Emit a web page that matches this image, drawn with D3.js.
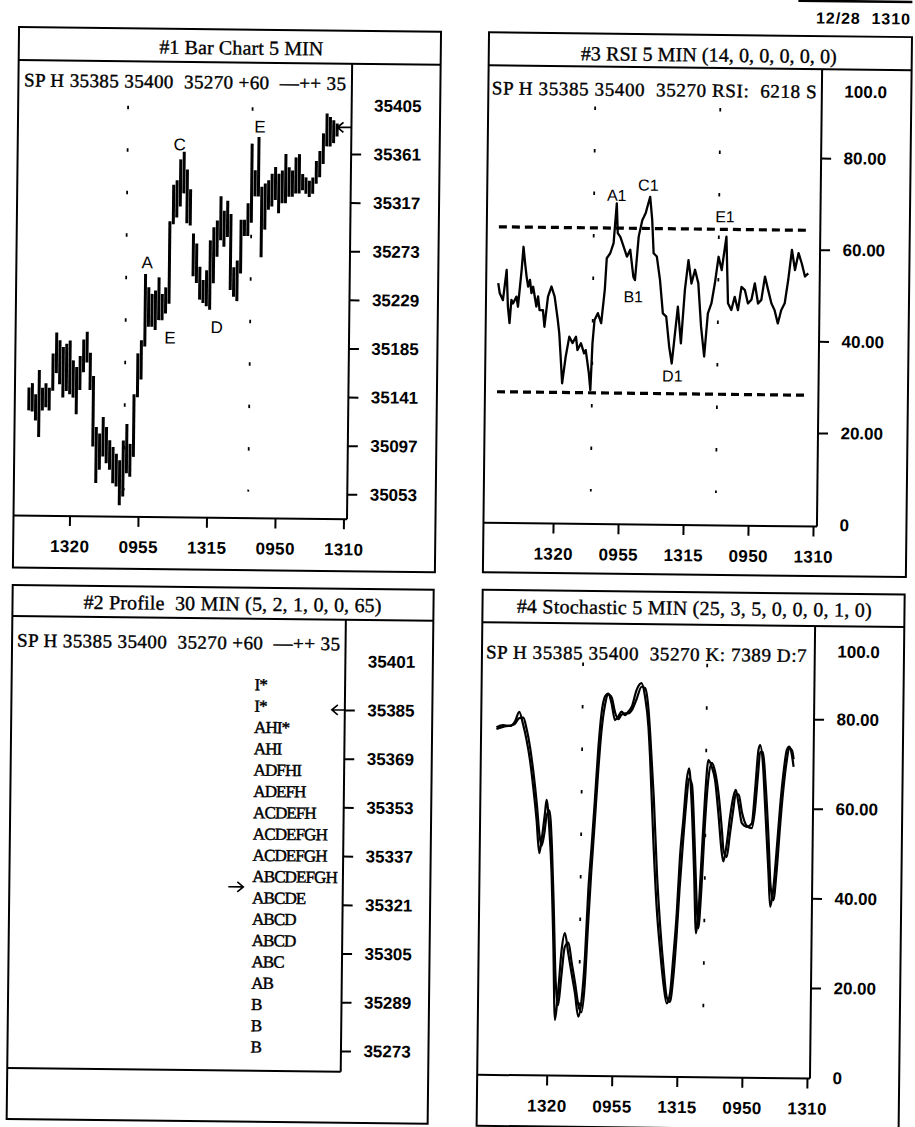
<!DOCTYPE html>
<html><head><meta charset="utf-8">
<script src="https://cdn.jsdelivr.net/npm/d3@7"></script>
<style>body{margin:0;background:#fff}svg{display:block}</style>
</head><body>
<svg id="c" width="915" height="1127"></svg>
<script>
// ---------------- DATA ----------------
const timeTickBars = [40, 80, 120, 160, 200];
const timeTickLabels = ["1320", "0955", "1315", "0950", "1310"];

// #1 bar chart (sampled every ~2 five-minute bars)
const priceTicks = [35405, 35361, 35317, 35273, 35229, 35185, 35141, 35097, 35053];
const priceStartBar = 15.5, priceBarStep = 1.98;
const priceHigh = [35145,35149,35139,35161,35145,35149,35145,35176,35195,35188,35182,35185,35188,35170,35164,35174,35189,35196,35177,35156,35110,35104,35119,35110,35098,35092,35086,35080,35098,35113,35095,35140,35177,35189,35249,35237,35231,35234,35246,35231,35237,35297,35330,35334,35353,35360,35344,35326,35286,35277,35256,35244,35253,35280,35292,35298,35320,35307,35316,35304,35256,35262,35299,35299,35314,35368,35344,35374,35329,35332,35335,35341,35347,35341,35344,35359,35347,35344,35356,35359,35341,35338,35335,35338,35353,35362,35378,35396,35393,35390,35387];
const priceLow = [35127,35126,35118,35103,35127,35130,35127,35145,35161,35151,35139,35145,35142,35139,35124,35146,35162,35171,35146,35095,35062,35074,35086,35080,35074,35062,35059,35042,35050,35071,35068,35086,35140,35156,35186,35204,35204,35201,35210,35210,35216,35225,35297,35303,35313,35325,35298,35296,35250,35244,35229,35226,35223,35220,35244,35268,35283,35277,35286,35238,35232,35228,35253,35287,35287,35299,35323,35323,35268,35293,35311,35314,35320,35308,35317,35317,35323,35323,35326,35326,35329,35326,35323,35326,35335,35341,35353,35369,35369,35372,35378];
const priceLast = 35385;
const priceDayBars = [71.5, 144.2];
const priceNotes = [["A",83.7,35261],["C",101.9,35368],["E",148.7,35385],["E",97.5,35193],["D",124.7,35203]];

// #3 RSI
const rsiTicks = [80, 60, 40, 20];
const rsiBands = [64.2, 28.2];
const rsiBar = [4.6,5.6,7.6,9.7,10.7,11.8,12.8,13.8,15.9,16.9,18.9,19.9,21.0,22.0,23.0,24.1,25.1,26.1,28.2,29.2,30.2,32.3,33.3,35.3,37.4,39.4,41.5,42.5,43.5,44.6,46.6,48.7,50.7,52.8,53.8,55.9,57.9,58.9,61.0,62.0,63.0,64.1,66.1,68.2,70.2,71.2,73.3,75.3,77.0,77.8,79.4,81.5,83.6,85.6,87.7,88.7,90.7,92.8,94.8,95.9,97.5,98.9,100.0,102.0,104.1,106.1,108.2,110.2,111.9,113.3,115.3,117.4,119.5,121.5,123.5,125.6,127.7,129.7,131.8,133.8,135.9,137.9,140.0,142.0,144.7,146.1,148.2,150.2,152.3,154.3,156.4,158.4,160.5,162.5,164.6,166.6,168.7,170.7,172.8,174.8,176.9,178.9,181.0,183.0,185.1,187.1,189.2,191.2,193.3,195.3];
const rsiValue = [51.9,49.7,48.2,54.8,46.8,43.2,48.3,47.5,49.0,46.8,54.8,59.9,56.3,53.4,51.2,52.7,49.8,51.2,46.9,49.1,46.1,46.1,42.5,49.1,51.3,49.1,44.0,41.1,36.0,30.2,36.0,40.4,39.0,40.4,37.5,39.0,36.8,37.5,32.4,28.8,39.0,44.1,45.6,43.4,50.7,57.6,58.7,60.9,69.6,63.1,62.3,60.2,58.0,59.5,53.6,52.9,62.4,66.0,67.5,69.0,71.1,66.1,58.8,58.1,53.0,45.7,45.0,38.5,34.8,39.9,47.2,39.2,50.9,57.4,52.3,55.3,52.4,42.9,36.4,45.8,48.0,52.4,58.2,55.3,62.6,48.1,46.6,49.5,46.6,51.7,51.0,48.1,48.9,52.5,48.1,48.9,54.0,51.1,48.2,46.7,43.8,46.7,48.2,53.3,59.9,55.5,59.2,57.0,54.1,54.8];
const rsiDayBars = [63.0, 140.0];
const rsiNotes = [["A1",76.9,71.4],["C1",96.3,73.7],["B1",87.8,49.3],["D1",112.4,32.1],["E1",143.7,67.0]];

// #2 profile
const profTicks = [35401, 35385, 35369, 35353, 35337, 35321, 35305, 35289, 35273];
const profPrice = [35393,35386,35379,35372,35365,35358,35351,35344,35337,35330,35323,35316,35309,35302,35295,35288,35281,35274];
const profLetters = ["I*","I*","AHI*","AHI","ADFHI","ADEFH","ACDEFH","ACDEFGH","ACDEFGH","ABCDEFGH","ABCDE","ABCD","ABCD","ABC","AB","B","B","B"];
const profMarker = 35326.5;

// #4 stochastic
const stochTicks = [80, 60, 40, 20];
const stochBar = [6.7,10.8,14.9,18.0,20.6,23.1,25.3,27.5,29.7,32.0,33.9,35.2,37.1,38.0,39.8,41.6,43.1,44.7,46.5,48.3,50.2,52.4,54.6,56.8,59.0,60.9,62.7,64.3,66.0,67.7,69.4,71.2,73.2,75.2,77.3,79.5,81.5,83.5,85.6,87.6,89.7,92.6,95.6,97.8,100.1,101.3,103.9,106.4,108.8,111.1,113.3,115.2,117.0,118.8,120.4,122.2,124.0,125.4,127.3,129.2,130.8,132.1,133.8,135.4,137.2,139.3,141.4,143.7,146.1,147.1,149.1,150.9,152.8,154.2,156.0,158.2,161.3,164.3,166.1,167.9,168.9,170.7,172.4,174.9,176.2,178.1,179.9,181.6,183.4,185.3,186.8,188.5,189.6];
const stochK = [77.4,77.9,77.7,78.7,80.9,78.0,74.6,70.2,64.2,56.8,49.4,52.3,58.3,61.3,55.3,44.9,30.0,12.2,18.9,27.8,31.6,27.1,22.6,18.2,13.0,16.7,26.4,41.3,51.0,61.4,72.6,80.8,84.5,85.2,83.0,79.3,80.1,81.2,80.4,81.2,82.3,86.1,87.6,84.6,77.9,71.2,52.6,37.7,28.1,20.6,16.2,18.4,26.6,36.3,49.0,57.2,66.1,68.7,60.2,45.3,31.9,36.4,49.8,62.4,70.6,69.1,66.2,58.7,49.8,48.0,52.1,58.0,62.5,64.0,61.0,56.6,55.8,56.6,64.0,73.0,74.1,70.0,60.3,45.5,38.0,42.5,51.4,60.4,67.8,73.0,73.8,71.9,69.3];
const stochD = [77.0,77.5,77.8,78.2,79.5,79.6,77.0,73.0,67.5,60.5,53.5,51.0,54.5,57.5,59.0,51.0,38.0,22.0,15.5,22.0,28.5,29.5,25.0,20.5,15.5,14.0,20.0,33.0,45.5,56.0,67.0,76.5,82.5,85.0,84.3,81.0,79.5,80.5,80.8,80.8,81.5,84.0,86.8,86.5,81.5,76.0,62.0,45.0,33.0,24.0,17.5,16.5,21.5,31.0,42.0,52.5,61.5,66.5,65.0,53.0,40.0,33.0,42.0,55.5,66.0,70.0,68.0,63.0,54.5,50.5,49.0,54.0,59.5,63.0,63.0,59.0,56.0,55.5,59.5,68.0,72.5,72.5,66.0,52.0,43.0,39.5,46.0,55.5,64.0,70.5,73.5,73.0,71.0];
const stochDayBars = [59.5, 135.8];

// texts
const titles = ["#1 Bar Chart 5 MIN", "#3 RSI 5 MIN (14, 0, 0, 0, 0, 0)", "#2 Profile  30 MIN (5, 2, 1, 0, 0, 65)", "#4 Stochastic 5 MIN (25, 3, 5, 0, 0, 0, 1, 0)"];
const headers = ["SP H 35385 35400  35270 +60  \u2014++ 35", "SP H 35385 35400  35270 RSI:  6218 S", "SP H 35385 35400  35270 +60  \u2014++ 35", "SP H 35385 35400  35270 K: 7389 D:7"];
const stamp = "12/28  1310";

// ---------------- LAYOUT ----------------
const serif = "'Liberation Serif','Times New Roman',serif";
const sans = "'Liberation Sans',Arial,sans-serif";
const svg = d3.select("#c");
const defs = svg.append("defs");
const g = svg.append("g").attr("transform", "rotate(0.65,457,563)");

const P1 = {x0:13, y0:32, w:422, h:540.5, tb:65, pr:346.5, pb:520.5};
const P3 = {x0:483, y0:32, w:423, h:540, tb:65, pr:816.5, pb:522.5};
const P2 = {x0:13, y0:590, w:421, h:534, tb:621, pr:346.5, pb:1073};
const P4 = {x0:483, y0:589.5, w:422, h:536, tb:622, pr:815.8, pb:1074.5};

function frame(p, id){
  const f = g.append("g").attr("fill","none").attr("stroke","#000").attr("stroke-width",2);
  f.append("rect").attr("x",p.x0).attr("y",p.y0).attr("width",p.w).attr("height",p.h);
  f.append("line").attr("x1",p.x0).attr("x2",p.x0+p.w).attr("y1",p.tb).attr("y2",p.tb);
  f.append("line").attr("x1",p.pr).attr("x2",p.pr).attr("y1",p.tb).attr("y2",p.pb);
  f.append("line").attr("x1",p.x0).attr("x2",p.pr).attr("y1",p.pb).attr("y2",p.pb);
  defs.append("clipPath").attr("id",id).append("rect")
    .attr("x",p.x0+1).attr("y",p.tb+1).attr("width",p.pr-p.x0-2).attr("height",p.pb-p.tb-2);
}
function bolden(sel, w){ return sel.attr("fill","#000").attr("stroke","#000").attr("stroke-width",w); }
function title(p, txt, cx, cy, len){
  bolden(g.append("text").attr("x",cx).attr("y",cy+6.6).attr("text-anchor","middle")
    .attr("font-family",serif).attr("font-size",20).attr("textLength",len).attr("lengthAdjust","spacing")
    .style("white-space","pre").text(txt), 0.35);
}
function header(txt, x, cy, len){
  bolden(g.append("text").attr("x",x).attr("y",cy+6.2).attr("font-family",serif).attr("font-size",19)
    .attr("textLength",len).attr("lengthAdjust","spacing")
    .style("white-space","pre").text(txt), 0.4);
}
function yAxis(p, scale, values, fmt, hidden){
  const a = g.append("g").attr("transform",`translate(${p.pr},0)`)
    .call(d3.axisRight(scale).tickValues(values).tickSize(10).tickPadding(12.5).tickFormat(fmt));
  a.select(".domain").remove();
  a.selectAll(".tick line").attr("stroke","#000").attr("stroke-width",2).attr("stroke-opacity",d=>hidden.includes(d)?0:1);
  a.selectAll("text").attr("font-family",sans).attr("font-weight","bold").attr("font-size",17).attr("fill","#000");
  return a;
}
function extraLabel(p, txt, y){
  g.append("text").attr("x",p.pr+22.5).attr("y",y).attr("dy","0.36em").attr("font-family",sans)
    .attr("font-weight","bold").attr("font-size",17).attr("fill","#000").text(txt);
}
function xAxis(p, scale){
  const a = g.append("g").attr("transform",`translate(0,${p.pb})`)
    .call(d3.axisBottom(scale).tickValues(timeTickBars).tickSize(10).tickPadding(14).tickFormat((d,i)=>timeTickLabels[i]));
  a.select(".domain").remove();
  a.selectAll(".tick line").attr("stroke","#000").attr("stroke-width",2);
  a.selectAll("text").attr("font-family",sans).attr("font-weight","bold").attr("font-size",17).attr("fill","#000").attr("letter-spacing",0.4);
}
function dayLines(xs, bars, y1, y2){
  g.append("g").selectAll("line").data(bars).join("line")
    .attr("x1",d=>xs(d)).attr("x2",d=>xs(d)).attr("y1",y1).attr("y2",y2)
    .attr("stroke","#000").attr("stroke-width",1.8).attr("stroke-dasharray","3.5 39");
}

// ---------- Panel 1: bar chart ----------
frame(P1,"cp1");
title(P1, titles[0], 235.5, 50.4, 164);
header(headers[0], 18.6, 85.1, 322);
const xP = d3.scaleLinear().domain([40,200]).range([69,343]);
const yP = d3.scaleLinear().domain([35053,35405]).range([495.5,106.6]);
yAxis(P1, yP, priceTicks, d=>d, [35405]);
xAxis(P1, xP);
dayLines(xP, priceDayBars, 109.5, 494);
const bars = priceHigh.map((h,i)=>({bar: priceStartBar + priceBarStep*i, h, l: priceLow[i]}));
g.append("g").attr("clip-path","url(#cp1)").selectAll("line").data(bars).join("line")
  .attr("x1",d=>xP(d.bar)).attr("x2",d=>xP(d.bar))
  .attr("y1",d=>yP(d.h)).attr("y2",d=>yP(d.l))
  .attr("stroke","#000").attr("stroke-width",3).attr("stroke-linecap","square");
// last price arrow
{
  const y = yP(priceLast), tip = P1.pr - 14;
  g.append("path").attr("d",`M${tip+6},${y-5}L${tip},${y}L${tip+6},${y+5}M${tip},${y}L${P1.pr},${y}`)
    .attr("fill","none").attr("stroke","#000").attr("stroke-width",1.8);
}
g.append("g").selectAll("text").data(priceNotes).join("text")
  .attr("x",d=>xP(d[1])).attr("y",d=>yP(d[2])).attr("dy","0.36em").attr("text-anchor","middle")
  .attr("font-family",sans).attr("font-size",17).attr("fill","#000").text(d=>d[0]);

// ---------- Panel 3: RSI ----------
frame(P3,"cp3");
title(P3, titles[1], 703, 52.2, 256);
header(headers[1], 486.4, 87.8, 325);
const xR = d3.scaleLinear().domain([40,200]).range([552.6,812.6]);
const yR = d3.scaleLinear().domain([0,100]).range([520.5,62.3]);
yAxis(P3, yR, rsiTicks, d3.format(".2f"), []);
extraLabel(P3, "100.0", 87.1);
extraLabel(P3, "0", yR(0));
xAxis(P3, xR);
dayLines(xR, rsiDayBars, 105, 490);
g.append("g").selectAll("line").data(rsiBands).join("line")
  .attr("x1",xR(rsiBar[0])).attr("x2",xR(rsiBar[rsiBar.length-1]-1))
  .attr("y1",d=>yR(d)).attr("y2",d=>yR(d))
  .attr("stroke","#000").attr("stroke-width",3.2).attr("stroke-dasharray","8 5");
const rsiPts = rsiBar.map((b,i)=>[b, rsiValue[i]]);
g.append("path").attr("clip-path","url(#cp3)")
  .attr("d", d3.line().x(d=>xR(d[0])).y(d=>yR(d[1]))(rsiPts))
  .attr("fill","none").attr("stroke","#000").attr("stroke-width",2.3).attr("stroke-linejoin","round");
g.append("g").selectAll("text").data(rsiNotes).join("text")
  .attr("x",d=>xR(d[1])).attr("y",d=>yR(d[2])).attr("dy","0.36em").attr("text-anchor","middle")
  .attr("font-family",sans).attr("font-size",16).attr("fill","#000").text(d=>d[0]);

// ---------- Panel 2: profile ----------
frame(P2,"cp2");
title(P2, titles[2], 233, 606.5, 298);
header(headers[2], 17.9, 645.4, 323);
const yQ = d3.scaleLinear().domain([35273,35385]).range([1052.2,711.2]);
yAxis(P2, yQ, profTicks, d=>d, [35401]);
bolden(g.append("g").attr("clip-path","url(#cp2)").selectAll("text").data(profPrice).join("text")
  .attr("x",256).attr("y",d=>yQ(d)).attr("dy","0.34em")
  .attr("font-family",serif).attr("font-size",17).attr("letter-spacing",-0.9)
  .text((d,i)=>profLetters[i]), 0.45);
{
  const y = yQ(priceLast), tip = P2.pr - 13;
  g.append("path").attr("d",`M${tip+6},${y-5}L${tip},${y}L${tip+6},${y+5}M${tip},${y}L${P2.pr},${y}`)
    .attr("fill","none").attr("stroke","#000").attr("stroke-width",1.6);
  const y2 = yQ(profMarker);
  g.append("path").attr("d",`M232,${y2}L247,${y2}M241,${y2-5}L247,${y2}L241,${y2+5}`)
    .attr("fill","none").attr("stroke","#000").attr("stroke-width",1.6);
}

// ---------- Panel 4: stochastic ----------
frame(P4,"cp4");
title(P4, titles[3], 694.7, 605.6, 355);
header(headers[3], 487, 651.8, 320.7);
const xS = d3.scaleLinear().domain([40,200]).range([552.5,812.8]);
const yS = d3.scaleLinear().domain([0,100]).range([1073.5,625.5]);
yAxis(P4, yS, stochTicks, d3.format(".2f"), []);
extraLabel(P4, "100.0", 647.1);
extraLabel(P4, "0", yS(0));
xAxis(P4, xS);
dayLines(xS, stochDayBars, 661, 1042);
const stLine = d3.line().x(d=>xS(d[0])).y(d=>yS(d[1])).curve(d3.curveMonotoneX);
[stochK, stochD].forEach(series=>{
  g.append("path").attr("clip-path","url(#cp4)")
    .attr("d", stLine(stochBar.map((b,i)=>[b, series[i]])))
    .attr("fill","none").attr("stroke","#000").attr("stroke-width",2.2).attr("stroke-linejoin","round");
});

// stamp
g.append("text").attr("x",856.8).attr("y",19.4).attr("text-anchor","middle")
  .attr("font-family",sans).attr("font-weight","bold").attr("font-size",16).attr("fill","#000")
  .attr("textLength",94).attr("lengthAdjust","spacing").style("white-space","pre").text(stamp);
g.append("line").attr("x1",792).attr("x2",906).attr("y1",-3.2).attr("y2",-3.2).attr("stroke","#000").attr("stroke-width",2.5);
</script>
</body></html>
